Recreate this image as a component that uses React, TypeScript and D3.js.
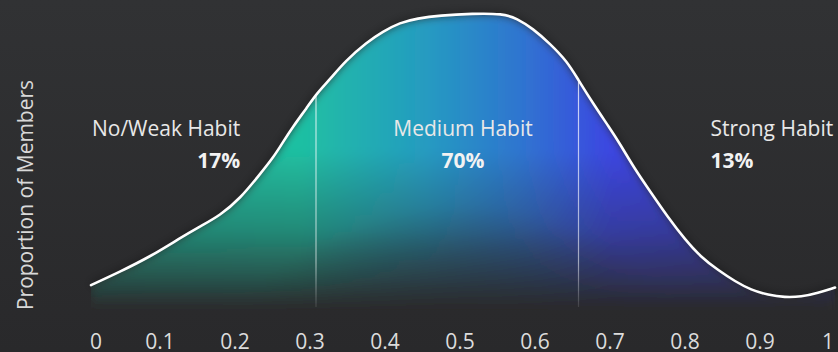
import React from "react";
import * as d3 from "d3";

// Habit-strength distribution: share of members along a 0–1 habit score.
const habitScore = [
  0.008, 0.047, 0.087, 0.127, 0.153, 0.18, 0.207, 0.233, 0.251, 0.264, 0.277,
  0.296, 0.309, 0.327, 0.347, 0.376, 0.397, 0.42, 0.443, 0.473, 0.517, 0.557,
  0.576, 0.597, 0.62, 0.643, 0.657, 0.677, 0.7, 0.713, 0.733, 0.755, 0.777,
  0.8, 0.821, 0.844, 0.867, 0.888, 0.911, 0.933, 0.955, 0.977, 1.0,
];
const memberDensity = [
  0.083, 0.128, 0.178, 0.24, 0.278, 0.315, 0.372, 0.452, 0.508, 0.56, 0.61,
  0.675, 0.722, 0.77, 0.83, 0.893, 0.928, 0.958, 0.972, 0.982, 0.988, 0.988,
  0.972, 0.938, 0.888, 0.828, 0.77, 0.69, 0.605, 0.555, 0.47, 0.39, 0.31,
  0.235, 0.177, 0.133, 0.095, 0.067, 0.05, 0.042, 0.044, 0.057, 0.075,
];

const segmentNames = ["No/Weak Habit", "Medium Habit", "Strong Habit"];
const segmentShares = [17, 70, 13];
const segmentBreaks = [0.308, 0.658];

const tickValues = [0, 0.1, 0.2, 0.3, 0.4, 0.5, 0.6, 0.7, 0.8, 0.9, 1];
const yTitle = "Proportion of Members";

const W = 838;
const H = 352;
const FONT = "'Open Sans', 'Noto Sans', sans-serif";
const FS = 21;

// where each segment caption sits on the score axis, and how it is anchored
const captionAt = [
  { at: 0.207, anchor: "end" },
  { at: 0.504, anchor: "middle" },
  { at: 0.834, anchor: "start" },
];

export default function App() {
  const x = d3.scaleLinear().domain([0, 1]).range([85, 835]);
  const y = d3.scaleLinear().domain([0, 1]).range([310, 10]);

  const pts: [number, number][] = habitScore.map((s, i) => [s, memberDensity[i]]);

  const line = d3
    .line<[number, number]>()
    .x((d) => x(d[0]))
    .y((d) => y(d[1]))
    .curve(d3.curveBasis);
  const area = d3
    .area<[number, number]>()
    .x((d) => x(d[0]))
    .y0(y(0))
    .y1((d) => y(d[1]))
    .curve(d3.curveBasis);

  const linePath = line(pts) || "";
  const areaPath = area(pts) || "";
  const x0 = x(habitScore[0]);
  const x1 = x(habitScore[habitScore.length - 1]);

  return (
    <svg
      width={W}
      height={H}
      viewBox={`0 0 ${W} ${H}`}
      style={{ position: "absolute", left: 0, top: 0, display: "block" }}
      fontFamily={FONT}
    >
      <defs>
        <linearGradient id="bg" x1="0" y1="0" x2="0" y2="1">
          <stop offset="0" stopColor="#313234" />
          <stop offset="1" stopColor="#29292b" />
        </linearGradient>
        <linearGradient id="hue" gradientUnits="userSpaceOnUse" x1={x0} y1="0" x2={x1} y2="0">
          <stop offset="0" stopColor="#1db99a" />
          <stop offset="0.28" stopColor="#1fc0a2" />
          <stop offset="0.45" stopColor="#259bc1" />
          <stop offset="0.58" stopColor="#2f74d0" />
          <stop offset="0.7" stopColor="#3c46e2" />
          <stop offset="1" stopColor="#3a3acb" />
        </linearGradient>
        <radialGradient
          id="shade"
          gradientUnits="userSpaceOnUse"
          cx="460"
          cy="370"
          r="235"
          gradientTransform="translate(460 370) scale(1 0.7) translate(-460 -370)"
        >
          <stop offset="0" stopColor="#2a2a2c" stopOpacity="0.85" />
          <stop offset="0.5" stopColor="#2a2a2c" stopOpacity="0.4" />
          <stop offset="1" stopColor="#2a2a2c" stopOpacity="0" />
        </radialGradient>
        <linearGradient id="fade" gradientUnits="userSpaceOnUse" x1="0" y1="150" x2="0" y2="308">
          <stop offset="0" stopColor="#2a2a2c" stopOpacity="0" />
          <stop offset="0.5" stopColor="#2a2a2c" stopOpacity="0.35" />
          <stop offset="0.8" stopColor="#2a2a2c" stopOpacity="0.7" />
          <stop offset="1" stopColor="#2a2a2c" stopOpacity="1" />
        </linearGradient>
        <linearGradient id="divider" gradientUnits="userSpaceOnUse" x1="0" y1="0" x2="0" y2="308">
          <stop offset="0" stopColor="#ffffff" stopOpacity="0.85" />
          <stop offset="0.85" stopColor="#ffffff" stopOpacity="0.55" />
          <stop offset="1" stopColor="#ffffff" stopOpacity="0.1" />
        </linearGradient>
        <clipPath id="under">
          <path d={areaPath} />
        </clipPath>
        <filter id="soft" x="-10%" y="-10%" width="120%" height="120%">
          <feGaussianBlur stdDeviation="5" />
        </filter>
        <filter id="shadow" x="-10%" y="-20%" width="120%" height="140%">
          <feGaussianBlur stdDeviation="4" />
        </filter>
      </defs>

      <rect x="0" y="0" width={W} height={H} fill="url(#bg)" />

      {/* faint shadow outside the curve */}
      <path d={linePath} fill="none" stroke="#000" strokeOpacity="0.3" strokeWidth="6" filter="url(#shadow)" />

      {/* gradient fill under the curve, softened at its edges */}
      <g clipPath="url(#under)">
        <g filter="url(#soft)">
          <path d={areaPath} fill="url(#hue)" />
          <rect x="0" y="0" width={W} height={H} fill="url(#shade)" />
          <rect x="0" y="0" width={W} height={H} fill="url(#fade)" />
        </g>
        {segmentBreaks.map((b, i) => (
          <line
            key={i}
            x1={x(b)}
            x2={x(b)}
            y1={0}
            y2={307}
            stroke="url(#divider)"
            strokeWidth="1.2"
          />
        ))}
      </g>

      <path d={linePath} fill="none" stroke="#ffffff" strokeWidth="2.6" strokeLinecap="round" />

      {/* segment captions */}
      {segmentNames.map((name, i) => (
        <g key={name}>
          <text
            x={x(captionAt[i].at)}
            y={136}
            textAnchor={captionAt[i].anchor as any}
            fontSize={FS}
            fill="#e8e8e8"
          >
            {name}
          </text>
          <text
            x={x(captionAt[i].at)}
            y={168}
            textAnchor={captionAt[i].anchor as any}
            fontSize={FS}
            fontWeight="700"
            fill="#f2f2f2"
          >
            {segmentShares[i]}%
          </text>
        </g>
      ))}

      {/* score axis labels */}
      {tickValues.map((t, i) => {
        const first = i === 0;
        const last = i === tickValues.length - 1;
        return (
          <text
            key={t}
            x={first ? x(t) + 5 : last ? x(t) - 1 : x(t)}
            y={349}
            textAnchor={first ? "start" : last ? "end" : "middle"}
            fontSize={FS}
            fill="#dcdcdc"
          >
            {String(t)}
          </text>
        );
      })}

      <text
        transform={`translate(32.5 195) rotate(-90)`}
        textAnchor="middle"
        fontSize={FS}
        fill="#d8d8d8"
      >
        {yTitle}
      </text>
    </svg>
  );
}
